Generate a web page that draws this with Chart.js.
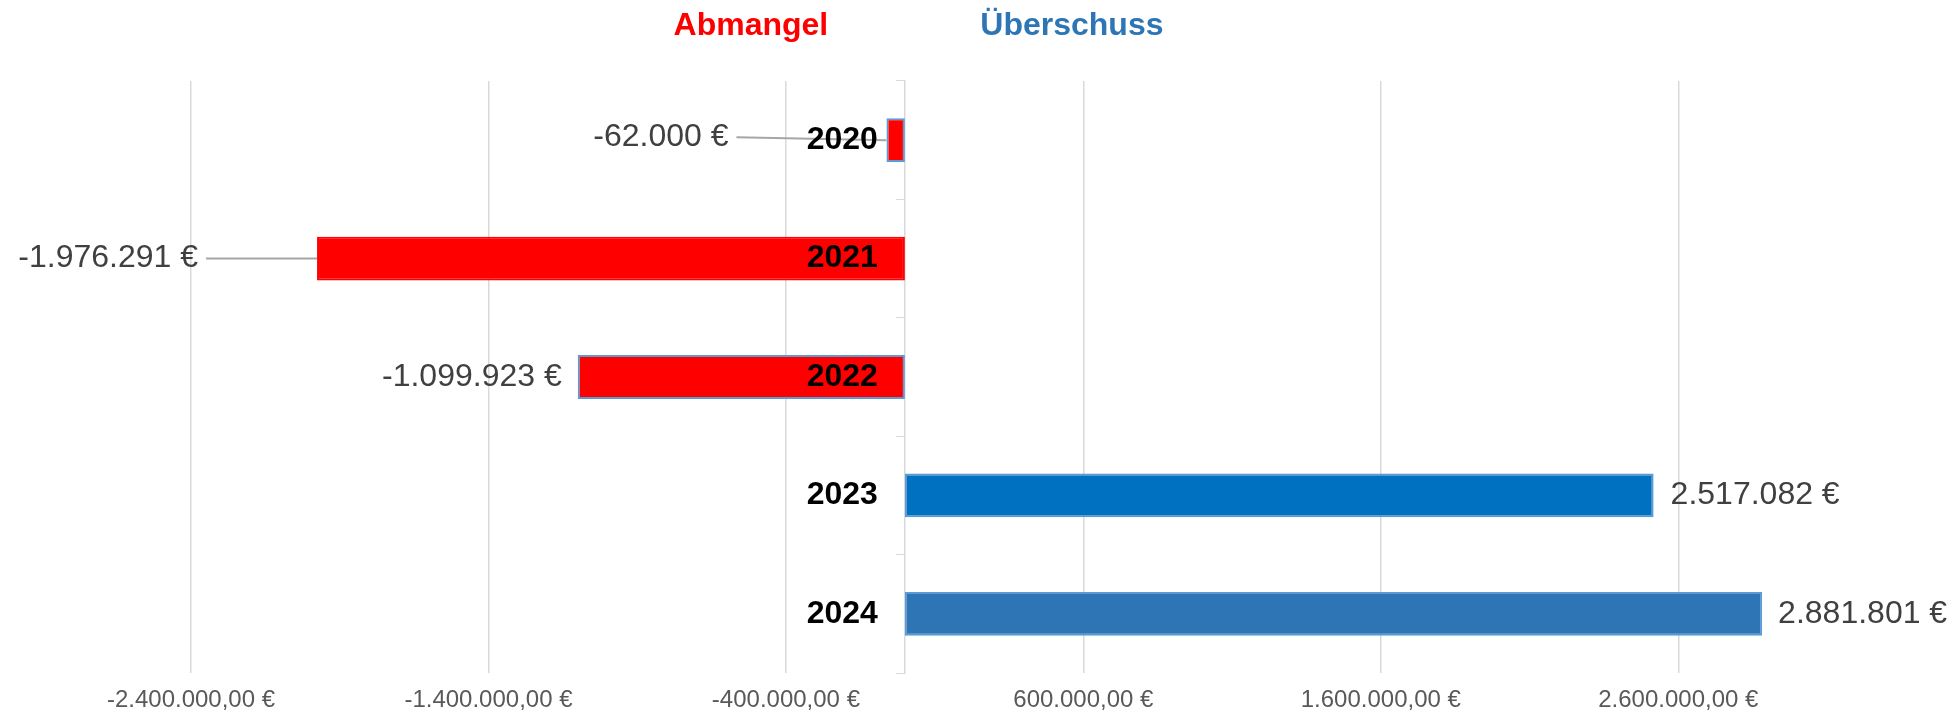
<!DOCTYPE html>
<html lang="de">
<head>
<meta charset="utf-8">
<title>Abmangel / Überschuss</title>
<script src="https://cdn.jsdelivr.net/npm/chart.js@4.4.1/dist/chart.umd.min.js"></script>
<style>
    html, body { margin: 0; padding: 0; background: #fff; }
    #chart { display: block; }
</style>
</head>
<body>
<canvas id="chart" width="1954" height="713"></canvas>
<script>
// Jahre und Ergebnis je Jahr (Euro)
const years = ["2020", "2021", "2022", "2023", "2024"];
const results = [-62000, -1976291, -1099923, 2517082, 2881801];
// Beschriftete Werte der x-Achse
const tickValues = [-2400000, -1400000, -400000, 600000, 1600000, 2600000];
const headers = ["Abmangel", "Überschuss"];

// Farben je Balken
const barColors = ["#ff0000", "#ff0000", "#ff0000", "#0070c0", "#2e75b6"];
const barBorders = ["#5b9bd5", "#ff0000", "#5b9bd5", "#5b9bd5", "#5b9bd5"];
// verschobene Datenbeschriftungen: Abstand zum Balkenende (px) und Führungslinie
const labelShift = [158, 119, 16, 17, 16];
const labelRise = [-3, 0, 0, 0, 0];
const leaderLine = [true, true, false, false, false];

const FONT = "'Liberation Sans', Arial, sans-serif";

// deutsches Zahlenformat mit Euro
function formatEuro(v, decimals) {
    let parts = Math.abs(v).toFixed(decimals).split(".");
    let s = parts[0].replace(/\B(?=(\d{3})+(?!\d))/g, ".");
    if (parts[1]) s += "," + parts[1];
    return (v < 0 ? "-" : "") + s + " €";
}

// Datenbeschriftungen, Führungslinien und Jahreszahlen
const labelPlugin = {
    id: "barLabels",
    afterDatasetsDraw(chart) {
        const ctx = chart.ctx;
        const meta = chart.getDatasetMeta(0);
        const x0 = chart.scales.x.getPixelForValue(0);
        ctx.save();
        ctx.textBaseline = "middle";
        meta.data.forEach((bar, i) => {
            let v = results[i];
            let y = bar.y + labelRise[i];
            ctx.font = "32px " + FONT;
            ctx.fillStyle = "#404040";
            if (v < 0) {
                let tx = bar.x - labelShift[i];
                if (leaderLine[i]) {
                    ctx.strokeStyle = "#a6a6a6";
                    ctx.lineWidth = 2;
                    ctx.beginPath();
                    ctx.moveTo(tx + 8, y);
                    ctx.lineTo(bar.x, bar.y);
                    ctx.stroke();
                }
                ctx.textAlign = "right";
                ctx.fillText(formatEuro(v, 0), tx, y);
            } else {
                ctx.textAlign = "left";
                ctx.fillText(formatEuro(v, 0), bar.x + labelShift[i], y);
            }
        });
        // Jahreszahlen links der Nulllinie
        ctx.font = "bold 32px " + FONT;
        ctx.fillStyle = "#000000";
        ctx.textAlign = "right";
        years.forEach((yr, i) => {
            ctx.fillText(yr, x0 - 27, chart.scales.y.getPixelForValue(i));
        });
        ctx.restore();
    },
    afterDraw(chart) {
        const ctx = chart.ctx;
        const x0 = chart.scales.x.getPixelForValue(0);
        ctx.save();
        ctx.font = "bold 32px " + FONT;
        ctx.textAlign = "center";
        ctx.textBaseline = "middle";
        ctx.fillStyle = "#ff0000";
        ctx.fillText(headers[0], x0 - 154, 26);
        ctx.fillStyle = "#2e75b6";
        ctx.fillText(headers[1], x0 + 167, 26);
        ctx.restore();
    }
};

function drawChart() {
    let ctx = document.getElementById("chart").getContext("2d");
    new Chart(ctx, {
        type: "bar",
        data: {
            labels: years,
            datasets: [{
                data: results,
                backgroundColor: barColors,
                borderColor: barBorders,
                borderWidth: 2,
                borderSkipped: false,
                categoryPercentage: 1,
                barPercentage: 0.37
            }]
        },
        options: {
            indexAxis: "y",
            responsive: false,
            animation: false,
            layout: { padding: { left: 191, right: 8, top: 81, bottom: 0 } },
            plugins: {
                legend: { display: false },
                tooltip: { enabled: false }
            },
            scales: {
                x: {
                    min: -2400000,
                    max: 3500000,
                    afterBuildTicks: scale => {
                        scale.ticks = tickValues.map(v => ({ value: v }));
                    },
                    afterFit: scale => {
                        scale.height = 40;
                    },
                    grid: { color: "#d9d9d9", lineWidth: 1.5, drawTicks: false },
                    border: { display: false },
                    ticks: {
                        padding: 13,
                        color: "#595959",
                        font: { size: 24, family: FONT },
                        maxRotation: 0,
                        autoSkip: false,
                        callback: v => formatEuro(v, 2)
                    }
                },
                y: {
                    position: { x: 0 },
                    grid: { drawOnChartArea: false, color: "#d9d9d9", tickLength: 8, offset: true },
                    border: { display: true, color: "#d9d9d9", width: 1.5 },
                    ticks: { display: false }
                }
            }
        },
        plugins: [labelPlugin]
    });
}

document.addEventListener("DOMContentLoaded", drawChart);
</script>
</body>
</html>
